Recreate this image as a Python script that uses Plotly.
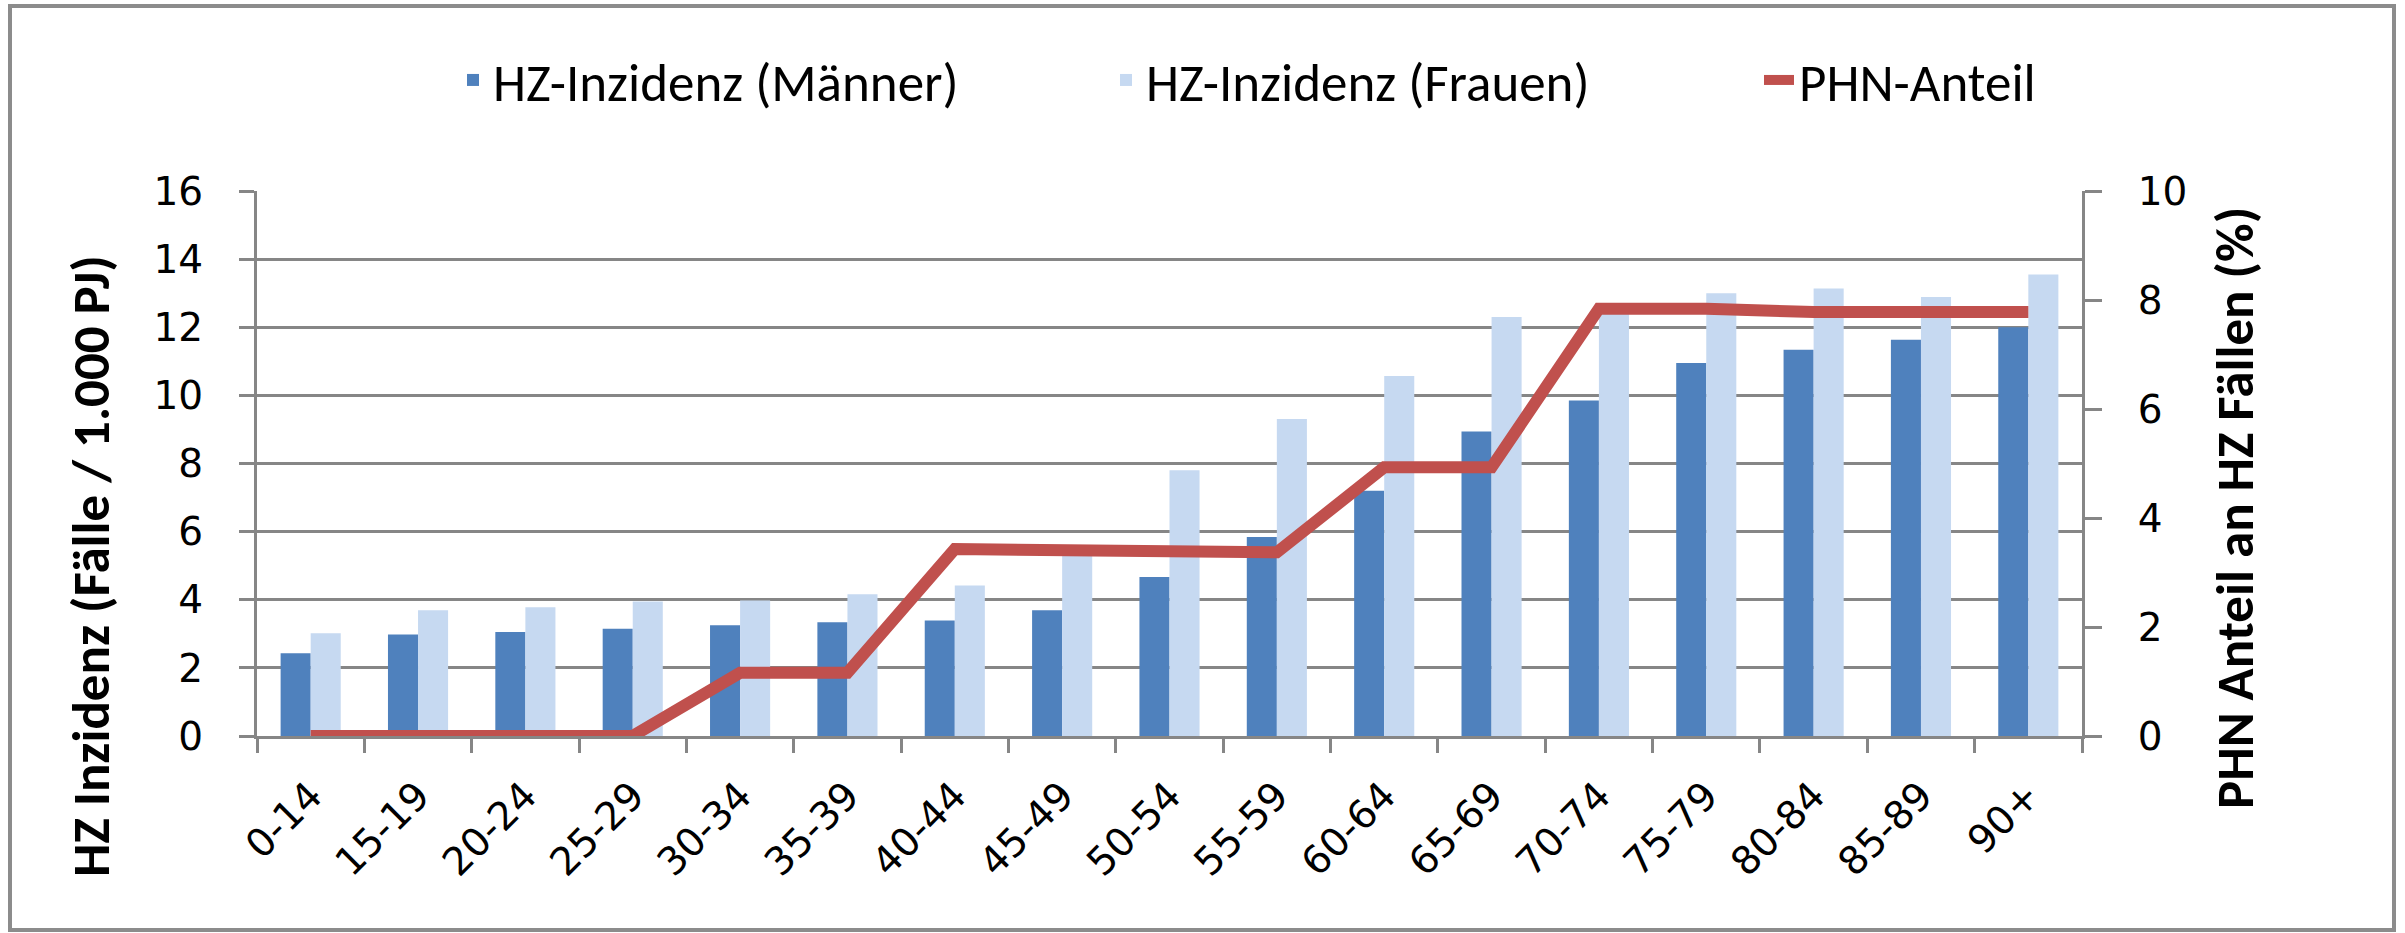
import plotly.graph_objects as go

categories = ["0-14", "15-19", "20-24", "25-29", "30-34", "35-39", "40-44", "45-49",
              "50-54", "55-59", "60-64", "65-69", "70-74", "75-79", "80-84", "85-89", "90+"]
inzidenz_maenner = [2.43, 2.98, 3.05, 3.15, 3.25, 3.34, 3.39, 3.69,
                    4.67, 5.84, 7.2, 8.94, 9.85, 10.95, 11.34, 11.63, 12.0]
inzidenz_frauen = [3.02, 3.69, 3.78, 3.95, 3.98, 4.16, 4.42, 5.5,
                   7.8, 9.31, 10.57, 12.3, 12.5, 13.0, 13.14, 12.89, 13.55]
phn_anteil = [0, 0, 0, 0, 1.16, 1.16, 3.43, 3.42,
              3.38, 3.37, 4.93, 4.93, 7.84, 7.84, 7.78, 7.78, 7.78]
y_left_ticks = [0, 2, 4, 6, 8, 10, 12, 14, 16]
y_right_ticks = [0, 2, 4, 6, 8, 10]

W, H = 2405, 933
L, R, T, B = 257, 2405 - 2082, 191, 933 - 736
PW, PH = W - L - R, H - T - B

GRID = "#868686"
TICKFONT = dict(family="DejaVu Sans, Verdana, sans-serif", size=39, color="black")
CAL = "Carlito, Liberation Sans Narrow, Open Sans, sans-serif"

fig = go.Figure()
fig.add_trace(go.Bar(x=categories, y=inzidenz_maenner, name="HZ-Inzidenz (Männer)",
                     marker=dict(color="#4F81BD", line=dict(width=0))))
fig.add_trace(go.Bar(x=categories, y=inzidenz_frauen, name="HZ-Inzidenz (Frauen)",
                     marker=dict(color="#C6D9F1", line=dict(width=0))))
fig.add_trace(go.Scatter(x=categories, y=phn_anteil, name="PHN-Anteil", yaxis="y2",
                         mode="lines", line=dict(color="#C0504D", width=12)))

def px_x(p):
    return (p - L) / PW

def px_y(p):
    return (H - B - p) / PH

fig.update_layout(
    width=W, height=H,
    margin=dict(l=L, r=R, t=T, b=B, pad=0, autoexpand=False),
    paper_bgcolor="white", plot_bgcolor="white",
    barmode="group", bargap=0.44, bargroupgap=0,
    showlegend=True,
    legend=dict(orientation="h", x=px_x(2412), xanchor="right", y=px_y(80), yanchor="middle",
                font=dict(family=CAL, size=53, color="black"), bgcolor="rgba(0,0,0,0)",
                itemwidth=30, entrywidth=608, entrywidthmode="pixels", traceorder="normal"),
    xaxis=dict(type="category", showline=True, linecolor=GRID, linewidth=3,
               ticks="outside", tickson="boundaries", ticklen=14, tickwidth=3, tickcolor=GRID,
               tickangle=-45, tickfont=TICKFONT, showgrid=False, ticklabelstandoff=18,
               automargin=False),
    yaxis=dict(range=[0, 16], tickvals=y_left_ticks, showline=True, linecolor=GRID, linewidth=3,
               ticks="outside", ticklen=15, tickwidth=3, tickcolor=GRID,
               showgrid=True, gridcolor=GRID, gridwidth=3, zeroline=False,
               tickfont=TICKFONT, ticklabelstandoff=28, automargin=False),
    yaxis2=dict(range=[0, 10], tickvals=y_right_ticks, overlaying="y", side="right",
                showline=True, linecolor=GRID, linewidth=3,
                ticks="outside", ticklen=17, tickwidth=3, tickcolor=GRID,
                showgrid=False, zeroline=False, tickfont=TICKFONT, ticklabelstandoff=28,
                automargin=False),
    annotations=[
        dict(text="<b>HZ Inzidenz (Fälle / 1.000 PJ)</b>", xref="paper", yref="paper",
             x=px_x(91), y=px_y(566), xanchor="center", yanchor="middle", textangle=-90,
             showarrow=False, font=dict(family=CAL, size=53, color="black")),
        dict(text="<b>PHN Anteil an HZ Fällen (%)</b>", xref="paper", yref="paper",
             x=px_x(2235), y=px_y(508), xanchor="center", yanchor="middle", textangle=-90,
             showarrow=False, font=dict(family=CAL, size=53, color="black")),
    ],
    shapes=[
        dict(type="rect", xref="paper", yref="paper",
             x0=px_x(10), x1=px_x(2394), y0=px_y(930), y1=px_y(6),
             line=dict(color="#8c8c8c", width=4), fillcolor="rgba(0,0,0,0)", layer="below"),
    ],
)

fig.write_html("out.html", config={"displayModeBar": False},
               post_script="document.body.style.margin='0';document.body.style.overflow='hidden';")
